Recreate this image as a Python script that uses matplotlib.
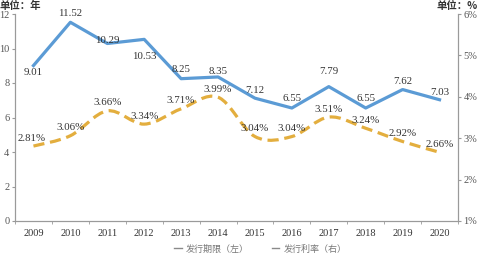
import matplotlib
matplotlib.use("Agg")
import matplotlib.pyplot as plt
from matplotlib.path import Path
from matplotlib.patches import PathPatch
from matplotlib.lines import Line2D
import numpy as np

years = ["2009", "2010", "2011", "2012", "2013", "2014", "2015", "2016", "2017", "2018", "2019", "2020"]
term = [9.01, 11.52, 10.29, 10.53, 8.25, 8.35, 7.12, 6.55, 7.79, 6.55, 7.62, 7.03]
rate = [2.81, 3.06, 3.66, 3.34, 3.71, 3.99, 3.04, 3.04, 3.51, 3.24, 2.92, 2.66]
left_ticks = [0, 2, 4, 6, 8, 10, 12]
right_ticks = [1, 2, 3, 4, 5, 6]
legend_labels = ["发行期限（左）", "发行利率（右）"]

plt.rcParams['font.family'] = ['Liberation Serif', 'Noto Sans CJK SC']
blue = "#5B9BD5"
gold = "#E3AE3E"
gray = "#9a9a9a"

fig = plt.figure(figsize=(4.78, 2.57), dpi=100)
ax = fig.add_axes([15/478, 1 - 221/257, (458 - 15)/478, (221 - 14)/257])
ax2 = ax.twinx()

x = np.arange(len(years))
ax.plot(x, term, color=blue, lw=2.3, zorder=3)


def smooth_path(xs, ys):
    xs = np.asarray(xs, float)
    ys = np.asarray(ys, float)
    verts = [(xs[0], ys[0])]
    codes = [Path.MOVETO]
    n = len(xs)
    for i in range(n - 1):
        x0, y0 = (xs[i - 1], ys[i - 1]) if i > 0 else (xs[i], ys[i])
        x3, y3 = (xs[i + 2], ys[i + 2]) if i + 2 < n else (xs[i + 1], ys[i + 1])
        c1 = (xs[i] + (xs[i + 1] - x0) / 6, ys[i] + (ys[i + 1] - y0) / 6)
        c2 = (xs[i + 1] - (x3 - xs[i]) / 6, ys[i + 1] - (y3 - ys[i]) / 6)
        verts += [c1, c2, (xs[i + 1], ys[i + 1])]
        codes += [Path.CURVE4] * 3
    return Path(verts, codes)


patch = PathPatch(smooth_path(x, rate), facecolor='none', edgecolor=gold, lw=2.3,
                  linestyle=(0, (3.5, 1.8)), zorder=3)
ax2.add_patch(patch)

ax.set_xlim(-0.5, len(years) - 0.5)
ax.set_ylim(0, 12)
ax2.set_ylim(1, 6)
ax.set_yticks(left_ticks)
ax.set_yticklabels([str(t) for t in left_ticks])
ax2.set_yticks(right_ticks)
ax2.set_yticklabels([f"{t}%" for t in right_ticks])
ax.set_xticks(x)
ax.set_xticklabels(years)
ax.set_xticks(np.arange(len(years) + 1) - 0.5, minor=True)
ax.tick_params(axis='x', which='major', length=0, pad=6, labelsize=7.5, colors='#333333')
ax.tick_params(axis='x', which='minor', length=2, color=gray)
ax.tick_params(axis='y', length=2, pad=2, labelsize=7.5, colors='#555555', color=gray)
ax2.tick_params(axis='y', length=2, pad=2, labelsize=7.5, colors='#555555', color=gray)

for a in (ax, ax2):
    a.spines['top'].set_visible(False)
    for s in ('left', 'right', 'bottom'):
        a.spines[s].set_color(gray)
        a.spines[s].set_linewidth(0.8)

blue_off = [-7, 9, 3, -17, 9, 5, 8, 10, 15, 10, 8, 7]
for i, v in enumerate(term):
    ax.annotate(f"{v:.2f}", (x[i], v), xytext=(0, blue_off[i]), textcoords='offset pixels',
                ha='center', va='center', fontsize=7.8, color='#333333', zorder=5)
for i, v in enumerate(rate):
    ax2.annotate(f"{v:.2f}%", (x[i], v), xytext=(-2 if i == 0 else 0, 8), textcoords='offset pixels',
                 ha='center', va='center', fontsize=7.8, color='#333333', zorder=5)

fig.text(0.0, 1 - 6/257, "单位：年", fontsize=7.5, fontweight='bold', ha='left', va='center',
         family=['Noto Sans CJK SC'], color='#333333')
fig.text(1.0, 1 - 6/257, "单位：%", fontsize=7.5, fontweight='bold', ha='right', va='center',
         family=['Noto Sans CJK SC'], color='#333333')

handles = [Line2D([], [], color='#8a8a8a', lw=1.0), Line2D([], [], color='#8a8a8a', lw=1.0)]
fig.legend(handles, legend_labels, loc='center', bbox_to_anchor=(0.545, 1 - 249/257), ncol=2,
           frameon=False, prop={'family': ['Noto Sans CJK SC'], 'size': 6.5},
           labelcolor='#777777', handlelength=0.8, columnspacing=2.5, handletextpad=0.5)

fig.savefig("out.png", dpi=100)
